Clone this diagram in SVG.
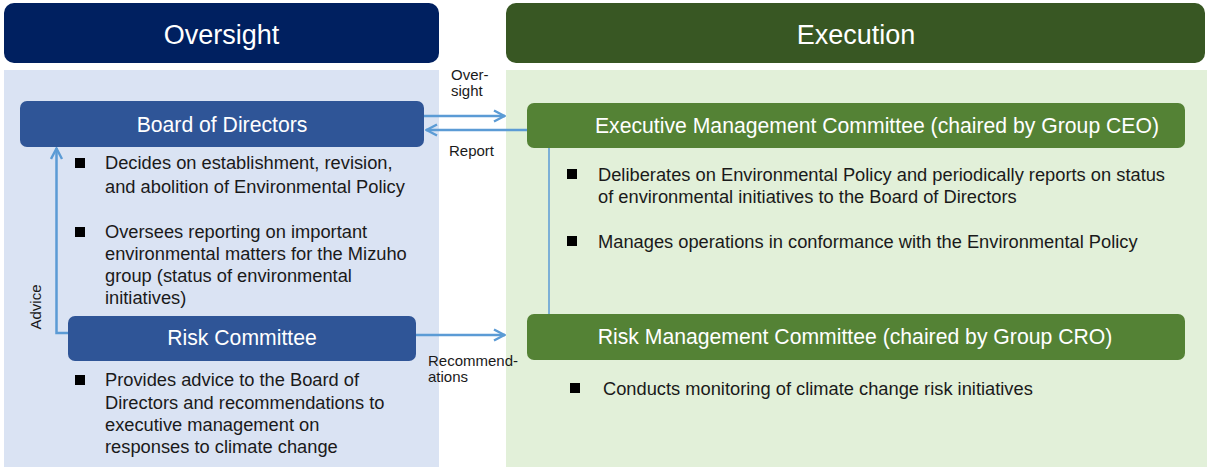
<svg xmlns="http://www.w3.org/2000/svg" width="1207" height="467" viewBox="0 0 1207 467">
<style>
.hdr{font-family:"Liberation Sans",Arial,sans-serif;font-size:27px;fill:#fff;text-anchor:middle}
.ttl{font-family:"Liberation Sans",Arial,sans-serif;font-size:21.2px;fill:#fff;text-anchor:middle}
.txt{font-family:"Liberation Sans",Arial,sans-serif;font-size:18.3px;fill:#1a1a1a}
.lbl{font-family:"Liberation Sans",Arial,sans-serif;font-size:15px;fill:#1a1a1a}
.conn{fill:none;stroke:#5B9BD5;stroke-width:2.5}
.thin{fill:none;stroke:#5B9BD5;stroke-width:1.5}
.blue{fill:#2F5597}
.green{fill:#548235}
.bul{fill:#000}
</style>
<defs>
<marker id="arr" viewBox="0 0 14 14" refX="13" refY="7" markerWidth="14" markerHeight="14" markerUnits="userSpaceOnUse" orient="auto">
<path d="M2,1.5 L12.5,7 L2,12.5" fill="none" stroke="#5B9BD5" stroke-width="2.4"/>
</marker>
</defs>
<rect width="1207" height="467" fill="#fff"/>
<g id="oversight-column">
<rect x="4" y="70" width="435" height="397" fill="#DAE3F3"/>
<rect x="4" y="3" width="435" height="60" rx="10" fill="#002060"/>
<text class="hdr" x="221.5" y="43.5">Oversight</text>
</g>
<g id="execution-column">
<rect x="506" y="70" width="701" height="397" fill="#E2F0D9"/>
<rect x="506" y="3" width="699" height="60" rx="10" fill="#385723"/>
<text class="hdr" x="856" y="43.5">Execution</text>
</g>
<g id="connectors">
<line class="conn" x1="424" y1="116" x2="505" y2="116" marker-end="url(#arr)"/>
<line class="conn" x1="527" y1="130" x2="426" y2="130" marker-end="url(#arr)"/>
<line class="conn" x1="416" y1="335" x2="505" y2="335" marker-end="url(#arr)"/>
<polyline class="conn" points="68,333 56.5,333 56.5,148" marker-end="url(#arr)"/>
<line class="thin" x1="549" y1="148" x2="549" y2="314"/>
<text class="lbl" x="451" y="80">Over-</text>
<text class="lbl" x="451" y="96">sight</text>
<text class="lbl" x="449" y="156">Report</text>
<text class="lbl" x="428" y="366">Recommend-</text>
<text class="lbl" x="428" y="382">ations</text>
<text class="lbl" x="0" y="0" transform="translate(41,307) rotate(-90)" text-anchor="middle">Advice</text>
</g>
<g id="board-of-directors">
<rect class="blue" x="20" y="101" width="404" height="46" rx="7"/>
<text class="ttl" x="222" y="131.5">Board of Directors</text>
<rect class="bul" x="75" y="158" width="10" height="10"/>
<text class="txt" x="105" y="169">Decides on establishment, revision,</text>
<text class="txt" x="105" y="193">and abolition of Environmental Policy</text>
<rect class="bul" x="75" y="227" width="10" height="10"/>
<text class="txt" x="105" y="238">Oversees reporting on important</text>
<text class="txt" x="105" y="260">environmental matters for the Mizuho</text>
<text class="txt" x="105" y="282">group (status of environmental</text>
<text class="txt" x="105" y="304">initiatives)</text>
</g>
<g id="risk-committee">
<rect class="blue" x="68" y="316" width="348" height="45" rx="7"/>
<text class="ttl" x="242" y="345">Risk Committee</text>
<rect class="bul" x="75" y="375" width="10" height="10"/>
<text class="txt" x="105" y="386">Provides advice to the Board of</text>
<text class="txt" x="105" y="409">Directors and recommendations to</text>
<text class="txt" x="105" y="431">executive management on</text>
<text class="txt" x="105" y="453">responses to climate change</text>
</g>
<g id="executive-management-committee">
<rect class="green" x="527" y="103" width="658" height="45" rx="7"/>
<text class="ttl" x="877" y="132.5">Executive Management Committee (chaired by Group CEO)</text>
<rect class="bul" x="567" y="169" width="10" height="10"/>
<text class="txt" x="598" y="181">Deliberates on Environmental Policy and periodically reports on status</text>
<text class="txt" x="598" y="203">of environmental initiatives to the Board of Directors</text>
<rect class="bul" x="567" y="236" width="10" height="10"/>
<text class="txt" x="598" y="248">Manages operations in conformance with the Environmental Policy</text>
</g>
<g id="risk-management-committee">
<rect class="green" x="527" y="314" width="658" height="46" rx="7"/>
<text class="ttl" x="855" y="344">Risk Management Committee (chaired by Group CRO)</text>
<rect class="bul" x="570" y="383" width="10" height="10"/>
<text class="txt" x="603" y="395">Conducts monitoring of climate change risk initiatives</text>
</g>
</svg>
